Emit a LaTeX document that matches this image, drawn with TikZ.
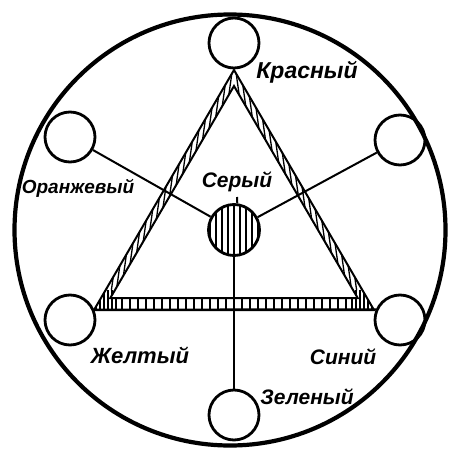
\documentclass[tikz,border=0pt]{standalone}
\usepackage{fontspec}
\setmainfont{Liberation Sans}

\begin{document}
\begin{tikzpicture}[x=1pt,y=-1pt,
	lamp/.style={circle,draw,line width=2.8pt,minimum size=50pt,inner sep=0pt},
	wire/.style={line width=2pt},
	hatch/.style={line width=1.3pt},
	colname/.style={font=\fontsize{21}{25}\selectfont\bfseries\itshape}]
	\useasboundingbox (0,0) rectangle (448,449);
	\draw [line width=4.2pt] (230,230) circle (215.5);
	% lamps
	\node [lamp] (red) at (234,43) {};
	\node [lamp] (orange) at (70,137) {};
	\node [lamp] (violet) at (400,140) {};
	\node [lamp] (yellow) at (70,320) {};
	\node [lamp] (blue) at (400,320) {};
	\node [lamp] (green) at (234,415) {};
	\node [lamp, minimum size=51pt, path picture={
		\foreach \k in {-4,...,4}
		\draw [hatch] ([xshift=\k*6pt]path picture bounding box.north) -- ([xshift=\k*6pt]path picture bounding box.south);
	}] (gray) at (234,230) {};
	% hatched band of the triangle
	\begin{scope}
		\clip (105.7,290) -- (234,70) -- (234,86) -- (115,290) -- cycle;
		\foreach \x in {-40,-35,...,240}
		\draw [hatch] (\x,300) -- ++(-82:300);
	\end{scope}
	\begin{scope}
		\clip (362.3,290) -- (234,70) -- (234,86) -- (353,290) -- cycle;
		\foreach \x in {228,233,...,510}
		\draw [hatch] (\x,300) -- ++(-98:300);
	\end{scope}
	\begin{scope}
		\clip (105.7,290) -- (94,310) -- (374,310) -- (362.3,290) -- (353,290)
			-- (357.7,298) -- (110.3,298) -- (115,290) -- cycle;
		\foreach \x in {96,100,...,116}
		\draw [hatch] (\x,285) -- (\x,312);
		\foreach \x in {122,130,...,346}
		\draw [hatch] (\x,285) -- (\x,312);
		\foreach \x in {352,356,...,372}
		\draw [hatch] (\x,285) -- (\x,312);
	\end{scope}
	\draw [wire] (234,70) -- (94,310) -- (374,310) -- cycle;
	\draw [wire] (234,86) -- (110.3,298) -- (357.7,298) -- cycle;
	% wires
	\draw [wire] (orange) -- (gray);
	\draw [wire] (violet) -- (gray);
	\draw [wire] (gray) -- (green);
	\draw [wire] (yellow.23.6) -- (blue.156.4);
	\coordinate (tick) at (237,197);
	\draw [wire] (gray.83) -- (tick);
	% names
	\node [colname, font=\fontsize{23}{27}\selectfont\bfseries\itshape] (rname) at (307,72) {Красный};
	\node [colname, font=\fontsize{19}{22}\selectfont\bfseries\itshape] (oname) at (78,188) {Оранжевый};
	\node [colname] (gname) at (237,182) {Серый};
	\node [colname, font=\fontsize{22}{26}\selectfont\bfseries\itshape] (yname) at (140,355) {Желтый};
	\node [colname] (bname) at (343,357) {Синий};
	\node [colname] (grname) at (307,397) {Зеленый};
\end{tikzpicture}
\end{document}
